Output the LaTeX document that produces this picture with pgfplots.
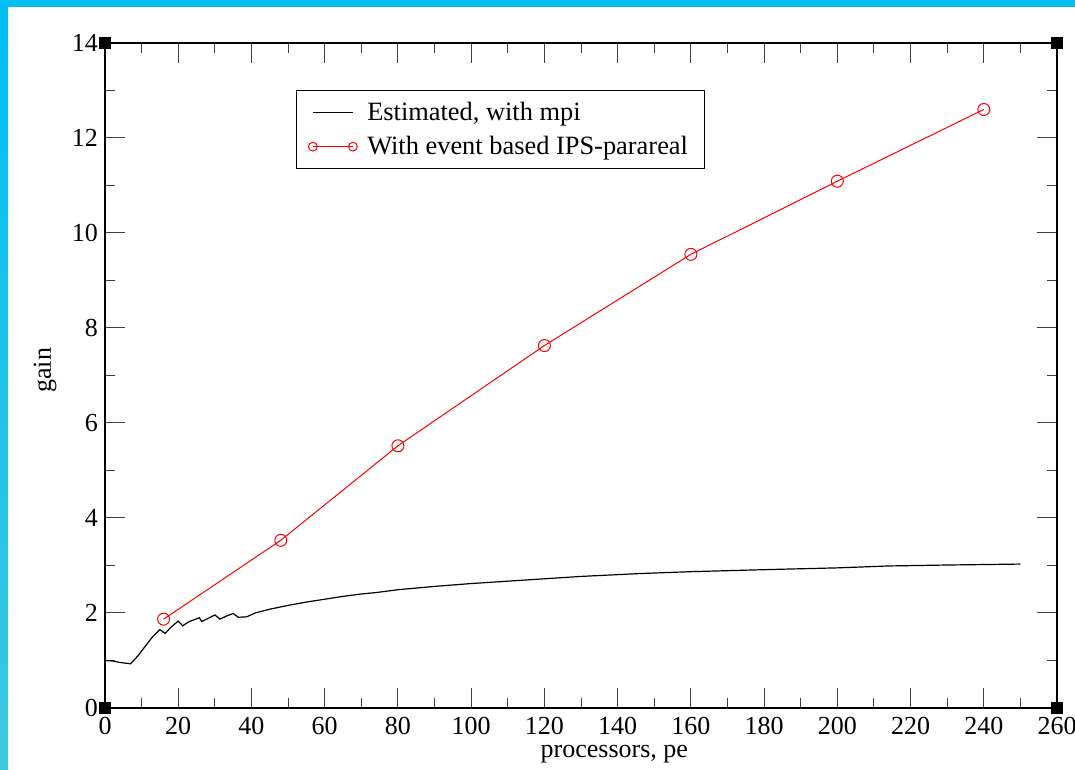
\documentclass[border=0pt]{standalone}
\usepackage{pgfplots}
\pgfplotsset{compat=1.18}
\usepackage{fontspec}
\setmainfont{Liberation Serif}
\definecolor{bandblue}{RGB}{0,190,242}
\definecolor{bandblue2}{RGB}{62,200,222}
\begin{document}
\begin{tikzpicture}
\fill[white] (0pt,0pt) rectangle (537.5pt,385pt);
\fill[bandblue] (0pt,381.5pt) rectangle (537.5pt,385pt);
\shade[top color=bandblue, bottom color=bandblue2] (0pt,0pt) rectangle (4pt,385pt);
\begin{axis}[
  at={(52.5pt,31pt)}, anchor=south west,
  width=476pt, height=332.5pt, scale only axis,
  xmin=0, xmax=260, ymin=0, ymax=14,
  xtick={0,20,...,260}, ytick={0,2,...,14},
  minor x tick num=1, minor y tick num=1,
  tick align=inside, tick pos=both,
  major tick length=10pt, minor tick length=5pt,
  axis line style={black, line width=0.75pt},
  every tick/.style={black!75, line width=0.5pt},
  tick label style={font=\fontsize{13}{15}\selectfont},
  /pgf/number format/assume math mode=true,
  xticklabel style={yshift=-1pt},
  xlabel={processors, pe},
  ylabel={gain},
  label style={font=\fontsize{13}{15}\selectfont},
  xlabel style={at={(axis description cs:0.535,-0.069)}, anchor=center},
  ylabel style={at={(axis description cs:-0.063,0.508)}, anchor=center},
  clip=false,
  legend style={at={(0.2006,0.929)}, anchor=north west, draw=black, line width=0.5pt,
    font=\fontsize{13.2}{14}\selectfont, inner xsep=6pt, inner ysep=3.5pt, row sep=2.5pt,
    cells={anchor=west},
    /tikz/every odd column/.append style={column sep=3pt}},
  legend image code/.code={\draw[#1] plot coordinates {(0pt,0pt) (20pt,0pt)};},
]
\addplot[black, line width=0.6pt] coordinates {
(0,1.0)(2,0.99)(4,0.96)(7,0.93)(9,1.1)(11,1.3)(13,1.5)(15,1.65)(16.4,1.57)(18,1.7)
(20,1.83)(21.2,1.73)(23,1.82)(25.8,1.9)(26.4,1.82)(28,1.88)(30,1.96)(31.4,1.87)
(33,1.93)(35,1.99)(36.4,1.91)(38.7,1.92)(41,2.0)(45,2.08)(50,2.16)(55,2.23)(60,2.29)
(65,2.35)(70,2.4)(74,2.43)(80,2.49)(90,2.56)(100,2.62)(108,2.66)(120,2.72)(130,2.77)
(146,2.83)(160,2.87)(184,2.92)(200,2.95)(214,2.99)(230,3.01)(250,3.03)};
\addlegendentry{Estimated, with mpi}
\addplot[red, line width=0.5pt, mark=o, mark size=3pt, mark options={line width=0.5pt},
  legend image post style={mark size=2.2pt}] coordinates {
(16,1.87)(48,3.53)(80,5.52)(120,7.63)(160,9.55)(200,11.09)(240,12.6)};
\addlegendentry{With event based IPS-parareal}
\addplot[black, only marks, mark=square*, mark size=2.6pt, forget plot] coordinates {(0,0)(260,0)(0,14)(260,14)};
\end{axis}
\pgfresetboundingbox
\useasboundingbox (0pt,0pt) rectangle (537.5pt,385pt);
\end{tikzpicture}
\end{document}
